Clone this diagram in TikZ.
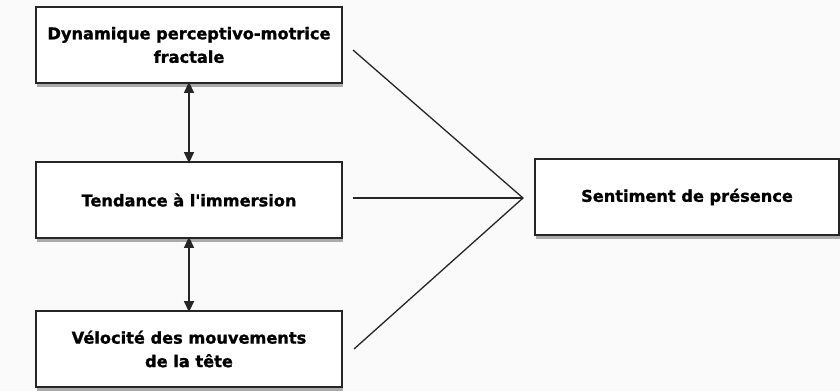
\documentclass[tikz,border=0pt]{standalone}
\usepackage{fontspec}
\setmainfont{DejaVu Sans}[BoldFeatures={FakeBold=1.2}]
\usetikzlibrary{shadows,arrows.meta}
\begin{document}
\begin{tikzpicture}[x=1pt,y=-1pt,
  box/.style={draw=black!85, line width=1.8pt, fill=white, minimum width=306pt, minimum height=76pt,
    align=center, font=\fontsize{16.2}{23.5}\selectfont\bfseries,
    drop shadow={shadow xshift=1pt, shadow yshift=-4pt, opacity=0.45, fill=black!70}},
  conn/.style={draw=black!85, line width=1.3pt},
  biarrow/.style={conn, {Triangle[length=11pt,width=10pt]}-{Triangle[length=11pt,width=10pt]}}]
\useasboundingbox[fill=black!2] (0,0) rectangle (840,391);
\node[box] (dyn) at (189,45) {Dynamique perceptivo-motrice\\fractale};
\node[box] (ten) at (189,200) {Tendance à l\textquotesingle immersion};
\node[box] (vel) at (189,349) {Vélocité des mouvements\\de la tête};
\node[box, minimum width=304pt] (sen) at (687,197) {Sentiment de présence};
\coordinate (c) at (523,198);
\coordinate (d1) at (353,50);
\coordinate (d2) at (353,198);
\coordinate (d3) at (354,349);
\draw[conn] (d1) -- (c) -- (d3);
\draw[conn] (d2) -- (c);
\draw[biarrow] ([yshift=2pt]dyn.south) -- ([yshift=-2pt]ten.north);
\draw[biarrow] ([yshift=2pt]ten.south) -- ([yshift=-2pt]vel.north);
\end{tikzpicture}
\end{document}
